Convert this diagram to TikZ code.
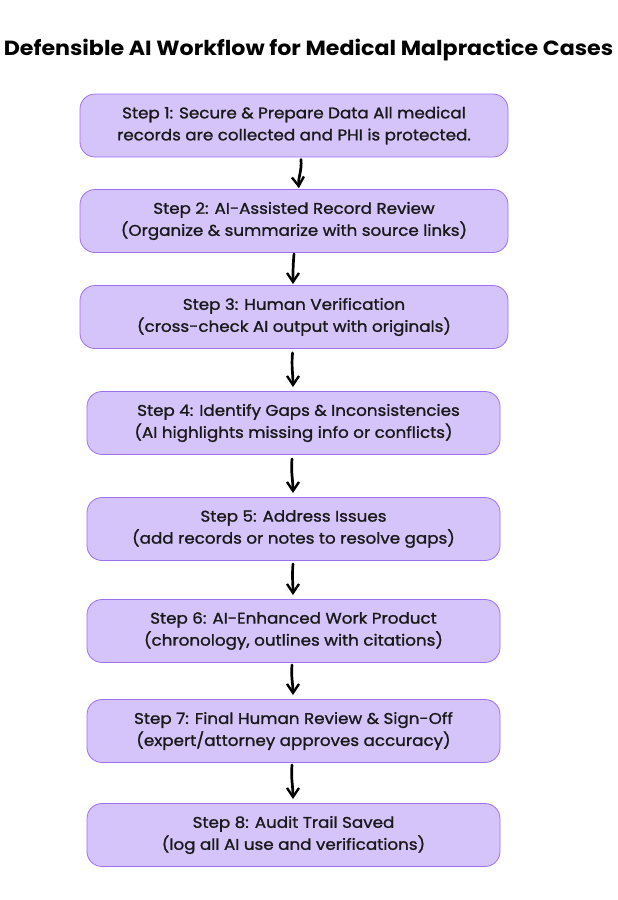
\documentclass[tikz,border=0pt]{standalone}
\usepackage{fontspec}
\setmainfont{Poppins}
\newfontfamily\bodyfont{Poppins}[FakeStretch=1.08, FakeBold=1.2]
\newfontfamily\titlefont{Poppins}[FakeStretch=1.08]
\usetikzlibrary{arrows.meta}
\definecolor{boxfill}{RGB}{212,196,250}
\definecolor{boxline}{RGB}{160,112,240}
\tikzset{
  stepbox/.style={draw=boxline, fill=boxfill, line width=0.8pt, rounded corners=15pt,
    minimum height=63pt, align=center, inner sep=0pt,
    font=\bodyfont\fontsize{15.5}{22}\selectfont, text=black!90},
  flowarrow/.style={-{Straight Barb[length=9pt,width=12pt,line width=2.4pt]}, line width=2.7pt, line cap=round, shorten >=1pt},
}
\begin{document}
\begin{tikzpicture}[x=1pt,y=-1pt]
\useasboundingbox (0,0) rectangle (618,900);
\node[font=\titlefont\bfseries\fontsize{20.5}{24}\selectfont] (title) at (308.5,50) {Defensible AI Workflow for Medical Malpractice Cases};
\node[stepbox, minimum width=428pt] (s1) at (294,125.5) {Step 1: Secure \& Prepare Data All medical\\records are collected and PHI is protected.};
\node[stepbox, minimum width=428pt] (s2) at (294,221) {Step 2: AI-Assisted Record Review\\(Organize \& summarize with source links)};
\node[stepbox, minimum width=428pt] (s3) at (294,317) {Step 3: Human Verification\\(cross-check AI output with originals)};
\node[stepbox, minimum width=413pt] (s4) at (293.5,423) {\hspace*{10pt}Step 4: Identify Gaps \& Inconsistencies\\(AI highlights missing info or conflicts)};
\node[stepbox, minimum width=413pt] (s5) at (293.5,529) {Step 5: Address Issues\\(add records or notes to resolve gaps)};
\node[stepbox, minimum width=413pt] (s6) at (293.5,631) {Step 6: AI-Enhanced Work Product\\(chronology, outlines with citations)};
\node[stepbox, minimum width=413pt] (s7) at (293.5,731) {Step 7: Final Human Review \& Sign-Off\\(expert/attorney approves accuracy)};
\node[stepbox, minimum width=413pt] (s8) at (293.5,835) {Step 8: Audit Trail Saved\\(log all AI use and verifications)};
\draw[flowarrow] ([xshift=7pt,yshift=-2pt]s1.south) to[out=-85,in=95] ([xshift=5pt]s2.north);
\draw[flowarrow] ([xshift=0pt,yshift=-1pt]s2.south) to[out=-95,in=90] ([xshift=-1pt]s3.north);
\draw[flowarrow] ([xshift=-1.5pt,yshift=-4pt]s3.south) to[out=-95,in=90] ([xshift=-0.5pt,yshift=3pt]s4.north);
\draw[flowarrow] ([xshift=-1.5pt,yshift=-4pt]s4.south) to[out=-95,in=90] ([xshift=-0.5pt,yshift=3pt]s5.north);
\draw[flowarrow] ([xshift=-0.5pt,yshift=-3pt]s5.south) to[out=-95,in=90] ([xshift=-0.5pt,yshift=3pt]s6.north);
\draw[flowarrow] ([xshift=-1.5pt,yshift=-2pt]s6.south) to[out=-95,in=90] ([xshift=-0.5pt,yshift=3pt]s7.north);
\draw[flowarrow] ([xshift=-1.5pt,yshift=-2pt]s7.south) to[out=-95,in=90] ([xshift=-0.5pt,yshift=3pt]s8.north);
\end{tikzpicture}
\end{document}
